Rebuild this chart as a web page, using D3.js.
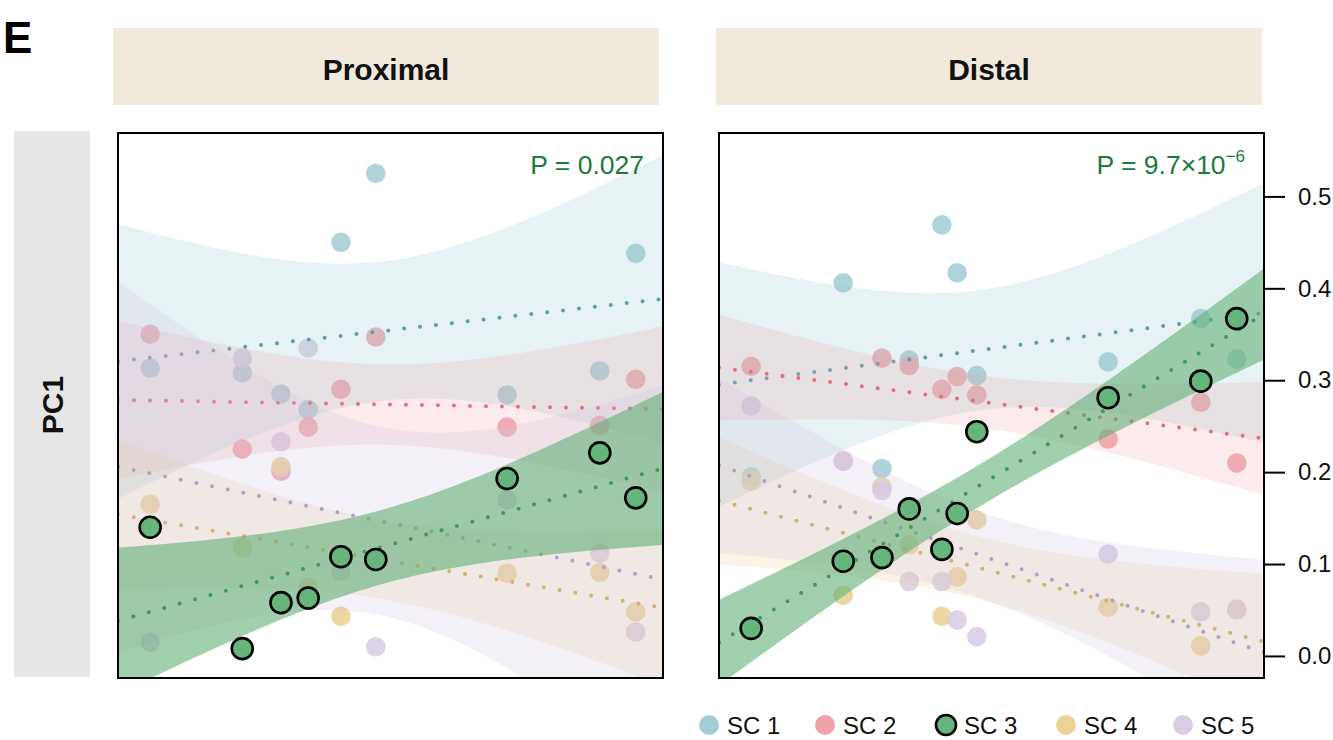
<!DOCTYPE html>
<html>
<head>
<meta charset="utf-8">
<script src="https://cdn.jsdelivr.net/npm/d3@7"></script>
<style>
  body { margin: 0; background: #fff; }
  svg { display: block; font-family: "Liberation Sans", Arial, Helvetica, sans-serif; }
</style>
</head>
<body>
<svg id="chart" width="1333" height="740"></svg>
<script>
// ---- data -------------------------------------------------------------
const seriesNames = ["SC 1", "SC 2", "SC 3", "SC 4", "SC 5"];
const facetNames = ["Proximal", "Distal"];
const yTicks = [0, 0.1, 0.2, 0.3, 0.4, 0.5];

// sample positions along the x axis (shared scale 0–100)
const proxX = [5.9, 22.8, 29.9, 34.9, 40.9, 47.3, 71.4, 88.4, 95.0];
const proxSC1 = [0.313, 0.308, 0.285, 0.268, 0.450, 0.525, 0.284, 0.310, 0.438];
const proxSC2 = [0.350, 0.225, 0.201, 0.249, 0.290, 0.347, 0.249, 0.251, 0.301];
const proxSC3 = [0.140, 0.008, 0.058, 0.063, 0.108, 0.105, 0.193, 0.221, 0.172];
const proxSC4 = [0.165, 0.118, 0.206, 0.075, 0.043, null, 0.090, 0.091, 0.048];
const proxSC5 = [0.015, 0.324, 0.233, 0.335, 0.092, 0.010, 0.170, 0.112, 0.026];

const distX = [5.9, 22.8, 29.9, 34.9, 40.9, 43.7, 47.3, 71.4, 88.4, 95.0];
const distSC1 = [0.195, 0.406, 0.204, 0.322, 0.469, 0.417, 0.305, 0.320, 0.367, 0.323];
const distSC2 = [0.315, 0.212, 0.324, 0.316, 0.290, 0.304, 0.284, 0.236, 0.276, 0.210];
const distSC3 = [0.030, 0.103, 0.107, 0.160, 0.116, 0.155, 0.244, 0.281, 0.299, 0.367];
const distSC4 = [0.190, 0.066, 0.184, 0.121, 0.043, 0.086, 0.148, 0.053, 0.011, 0.051];
const distSC5 = [0.272, 0.212, 0.180, 0.081, 0.081, 0.039, 0.021, 0.111, 0.048, 0.050];

// SC 3 trend p-values
const pProximal = "0.027";
const pDistalMantissa = "9.7×10";
const pDistalExponent = "−6";

// ---- styling ----------------------------------------------------------
const pointFill = ["#A3CDD4", "#EFA2AA", "#66B57B", "#EBD299", "#D9CDE4"];
const dotColor  = ["#5E9FAE", "#E4707D", "#3F9A5D", "#D7AE48", "#B5A0CB"];
const bandFill  = ["#A3CDD4", "#EFA2AA", "#5DAE73", "#EBD299", "#D2C6E0"];
const bandAlpha = [0.26, 0.22, 0.58, 0.24, 0.26];
const highlight = 2; // SC 3
const pColor = "#1B7A3A";

// t quantiles (0.975) by degrees of freedom for 95% confidence bands
const tQuantile = { 4: 2.7764, 5: 2.5706, 6: 2.4469, 7: 2.3646, 8: 2.3060, 9: 2.2622, 10: 2.2281 };

// ---- layout -----------------------------------------------------------
const panelTop = 133, panelSize = 545;
const panelLefts = [118, 719];
const stripOffsets = [-5, -3];

const x = d3.scaleLinear().domain([0, 100]).range([0, panelSize]);
const y = d3.scaleLinear().domain([-0.024, 0.569]).range([panelSize, 0]);

const svg = d3.select("#chart");

// linear fit with 95% confidence band over the full x range
function linearFit(xs, ys) {
  const pts = xs.map((xv, i) => [xv, ys[i]]).filter(d => d[1] != null);
  const n = pts.length;
  const mx = d3.mean(pts, d => d[0]);
  const my = d3.mean(pts, d => d[1]);
  const sxx = d3.sum(pts, d => (d[0] - mx) ** 2);
  const sxy = d3.sum(pts, d => (d[0] - mx) * (d[1] - my));
  const b = sxy / sxx, a = my - b * mx;
  const rss = d3.sum(pts, d => (d[1] - (a + b * d[0])) ** 2);
  const s = Math.sqrt(rss / (n - 2));
  const t = tQuantile[n - 2];
  return d3.range(0, 100.001, 1).map(g => {
    const f = a + b * g;
    const se = s * Math.sqrt(1 / n + (g - mx) ** 2 / sxx);
    return { x: g, fit: f, lo: f - t * se, hi: f + t * se };
  });
}

const panels = [
  { xs: proxX, series: [proxSC1, proxSC2, proxSC3, proxSC4, proxSC5] },
  { xs: distX, series: [distSC1, distSC2, distSC3, distSC4, distSC5] }
];

const area = d3.area().x(d => x(d.x)).y0(d => y(d.lo)).y1(d => y(d.hi));
const line = d3.line().x(d => x(d.x)).y(d => y(d.fit));

svg.append("defs").append("clipPath").attr("id", "panel-clip")
  .append("rect").attr("width", panelSize).attr("height", panelSize);

panels.forEach((panel, pi) => {
  const left = panelLefts[pi];
  const stripLeft = left + stripOffsets[pi];

  // facet strip
  svg.append("rect")
    .attr("x", stripLeft).attr("y", 28).attr("width", panelSize + 1).attr("height", 77)
    .attr("fill", "#F1EADC");
  svg.append("text")
    .attr("x", stripLeft + (panelSize + 1) / 2).attr("y", 80)
    .attr("text-anchor", "middle").attr("font-weight", "bold").attr("font-size", 30)
    .attr("fill", "#111").text(facetNames[pi]);

  const g = svg.append("g").attr("transform", `translate(${left},${panelTop})`);
  const plot = g.append("g").attr("clip-path", "url(#panel-clip)");

  const others = [0, 1, 3, 4];

  // points of the background series
  others.forEach(si => {
    const pts = panel.xs.map((xv, i) => [xv, panel.series[si][i]]).filter(d => d[1] != null);
    plot.append("g").selectAll("circle").data(pts).join("circle")
      .attr("cx", d => x(d[0])).attr("cy", d => y(d[1])).attr("r", 9.8)
      .attr("fill", pointFill[si]).attr("fill-opacity", 0.88);
  });

  // bands and dotted trend lines, highlighted series last
  [...others, highlight].forEach(si => {
    const fit = linearFit(panel.xs, panel.series[si]);
    plot.append("path").datum(fit).attr("d", area)
      .attr("fill", bandFill[si]).attr("fill-opacity", bandAlpha[si]);
    plot.append("path").datum(fit).attr("d", line)
      .attr("fill", "none").attr("stroke", dotColor[si]).attr("stroke-width", 4)
      .attr("stroke-linecap", "round").attr("stroke-dasharray", "0 16");
  });

  // highlighted points
  const hp = panel.xs.map((xv, i) => [xv, panel.series[highlight][i]]).filter(d => d[1] != null);
  plot.append("g").selectAll("circle").data(hp).join("circle")
    .attr("cx", d => x(d[0])).attr("cy", d => y(d[1])).attr("r", 10.5)
    .attr("fill", pointFill[highlight]).attr("stroke", "#000").attr("stroke-width", 2.6);

  // panel border
  g.append("rect").attr("width", panelSize).attr("height", panelSize)
    .attr("fill", "none").attr("stroke", "#000").attr("stroke-width", 2);

  // p-value label
  const pt = g.append("text")
    .attr("x", panelSize - 19).attr("y", 41)
    .attr("text-anchor", "end").attr("font-size", 26.5).attr("fill", pColor);
  if (pi === 0) {
    pt.text("P = " + pProximal);
  } else {
    pt.append("tspan").text("P = " + pDistalMantissa);
    pt.append("tspan").attr("dy", -12).attr("font-size", 17).text(pDistalExponent);
  }
});

// y axis on the right of the last panel
const axis = svg.append("g")
  .attr("transform", `translate(${panelLefts[1] + panelSize},${panelTop})`)
  .call(d3.axisRight(y).tickValues(yTicks).tickSize(21).tickPadding(13).tickFormat(d3.format(".1f")));
axis.select(".domain").remove();
axis.selectAll(".tick line").attr("stroke", "#000").attr("stroke-width", 2);
axis.selectAll(".tick text").attr("font-size", 24).attr("fill", "#111")
  .attr("font-family", "\"Liberation Sans\", Arial, sans-serif");

// row strip
svg.append("rect").attr("x", 14).attr("y", 131).attr("width", 76).attr("height", 546).attr("fill", "#E6E6E6");
svg.append("text")
  .attr("transform", "translate(63,405) rotate(-90)")
  .attr("text-anchor", "middle").attr("font-weight", "bold").attr("font-size", 30)
  .attr("fill", "#111").text("PC1");

// panel tag
svg.append("text").attr("x", 3).attr("y", 53)
  .attr("font-weight", "bold").attr("font-size", 44).attr("fill", "#000").text("E");

// legend
const legendX = [709, 825, 946, 1066, 1183];
const legend = svg.append("g").selectAll("g").data(seriesNames).join("g")
  .attr("transform", (d, i) => `translate(${legendX[i]},725)`);
legend.append("circle").attr("r", 10)
  .attr("fill", (d, i) => pointFill[i])
  .attr("stroke", (d, i) => i === highlight ? "#000" : "none")
  .attr("stroke-width", 2.6);
legend.append("text").attr("x", 18).attr("y", 8.5)
  .attr("font-size", 24).attr("fill", "#111").text(d => d);
</script>
</body>
</html>
